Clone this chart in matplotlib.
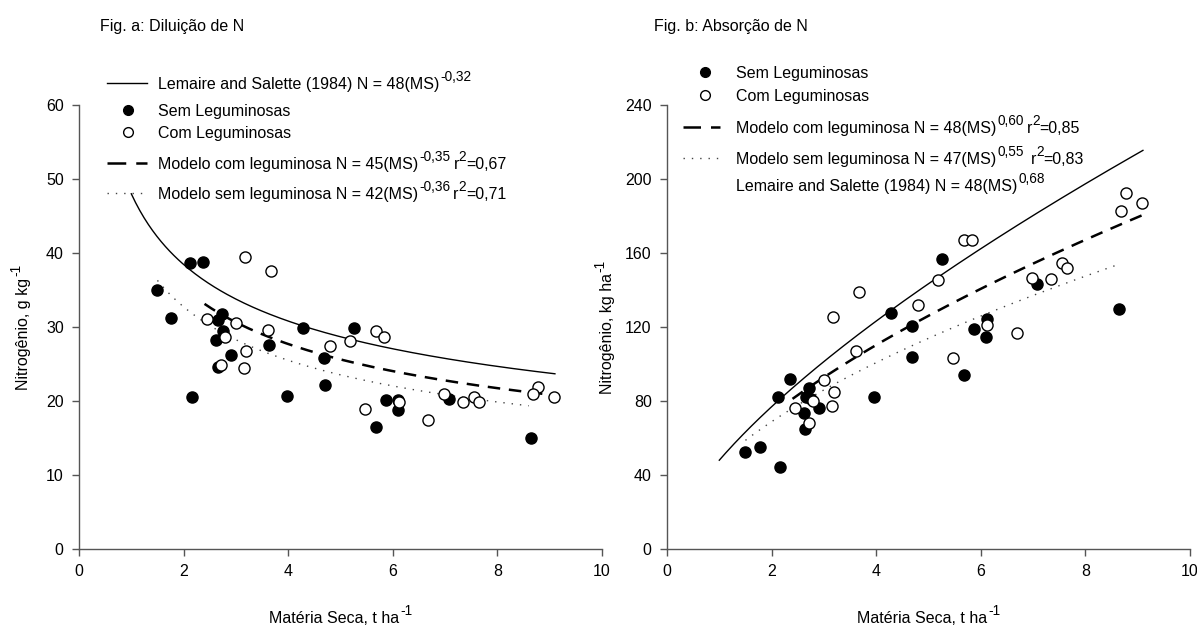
import numpy as np
import matplotlib
matplotlib.use("Agg")
import matplotlib.pyplot as plt
from matplotlib.lines import Line2D
from matplotlib import font_manager

names = {f.name for f in font_manager.fontManager.ttflist}
if 'Liberation Sans Narrow' in names:
    plt.rcParams['font.family'] = ['Liberation Sans Narrow', 'Liberation Sans', 'DejaVu Sans']
    FS = 13.6
else:
    plt.rcParams['font.family'] = ['Liberation Sans', 'DejaVu Sans']
    FS = 11.5
SUP = 0.85
RISE = 8

# ---------------- data: Fig. a (N concentration, g/kg) ----------------
a_sem_x = [1.49, 1.76, 2.12, 2.37, 2.16, 2.73, 2.66, 2.76, 2.62, 2.91, 2.65,
           3.64, 3.97, 4.28, 4.68, 4.70, 5.26, 5.67, 5.87, 6.10, 6.09, 7.08, 8.64]
a_sem_y = [35.0, 31.2, 38.7, 38.8, 20.5, 31.8, 30.9, 29.4, 28.2, 26.2, 24.6,
           27.6, 20.7, 29.9, 25.8, 22.1, 29.9, 16.5, 20.2, 20.2, 18.8, 20.3, 15.0]
a_com_x = [3.17, 3.68, 2.45, 3.00, 2.79, 3.61, 3.19, 3.16, 2.72, 4.79, 5.18,
           5.67, 5.83, 5.47, 6.11, 6.68, 6.97, 7.34, 7.55, 7.65, 8.78, 8.69, 9.09]
a_com_y = [39.4, 37.6, 31.1, 30.5, 28.7, 29.6, 26.7, 24.5, 24.9, 27.5, 28.1,
           29.5, 28.7, 18.9, 19.9, 17.5, 20.9, 19.9, 20.5, 19.8, 21.9, 21.0, 20.5]

# ---------------- data: Fig. b (N uptake, kg/ha) ----------------
b_sem_x = [1.49, 1.77, 2.16, 2.13, 2.36, 2.72, 2.66, 2.76, 2.62, 2.91, 2.64,
           3.96, 4.28, 4.68, 4.69, 5.26, 5.67, 5.87, 6.11, 6.09, 7.08, 8.65]
b_sem_y = [52.3, 55.0, 44.3, 82.2, 91.9, 86.9, 82.3, 81.0, 73.7, 76.0, 64.7,
           82.0, 127.7, 120.7, 103.8, 156.8, 93.8, 118.7, 124.2, 114.6, 143.2, 129.9]
b_com_x = [3.18, 3.67, 4.79, 5.18, 3.61, 3.00, 3.19, 3.16, 2.79, 2.45, 2.72,
           5.47, 5.67, 5.83, 6.97, 7.34, 7.55, 7.65, 6.11, 6.70, 8.78, 8.69, 9.09]
b_com_y = [125.2, 139.0, 131.7, 145.6, 107.0, 91.4, 84.9, 77.3, 80.2, 76.2, 67.9,
           103.2, 167.0, 167.0, 146.3, 145.8, 154.8, 152.0, 121.0, 116.9, 192.6, 182.7, 187.2]

# model curves: N = a * MS^b over [x_start, x_end]
a_models = {"lemaire": (48, -0.32, 1.0, 9.1),
            "com": (45, -0.35, 2.4, 9.1),
            "sem": (42, -0.36, 1.5, 8.6)}
b_models = {"lemaire": (48, 0.68, 1.0, 9.1),
            "com": (48, 0.60, 2.4, 9.1),
            "sem": (47, 0.55, 1.5, 8.6)}

x_ticks = [0, 2, 4, 6, 8, 10]
a_yticks = [0, 10, 20, 30, 40, 50, 60]
b_yticks = [0, 40, 80, 120, 160, 200, 240]

W, H = 1197, 632
fig = plt.figure(figsize=(W / 100, H / 100), dpi=100)
renderer = fig.canvas.get_renderer()

ax1 = fig.add_axes([79 / W, (H - 549) / H, 523 / W, 444 / H])
ax2 = fig.add_axes([667 / W, (H - 549) / H, 523 / W, 444 / H])

DASH = (0, (5, 3.5))
DOT = (0, (1, 5))
SPINE = '#555555'


def rich(x, y, pieces, ha='left', rotation=0):
    """pieces: (text, is_sup) tuples or numeric pixel gaps. x, y in image px (y = baseline)."""
    items = []
    total = 0.0
    for p in pieces:
        if isinstance(p, (int, float)):
            items.append((None, p, False))
            total += p
            continue
        s, sup = p
        t = fig.text(0, 0, s, fontsize=FS * SUP if sup else FS, rotation=rotation,
                     rotation_mode='anchor', ha='left', va='baseline')
        bb = t.get_window_extent(renderer)
        w = bb.height if rotation == 90 else bb.width
        items.append((t, w, sup))
        total += w
    if rotation == 90:
        cur = y + total / 2 if ha == 'center' else y
        for t, w, sup in items:
            if t is not None:
                xx = x - RISE if sup else x
                t.set_position((xx / W, 1 - cur / H))
            cur -= w
    else:
        cur = x - total / 2 if ha == 'center' else x
        for t, w, sup in items:
            if t is not None:
                yy = y - RISE if sup else y
                t.set_position((cur / W, 1 - yy / H))
            cur += w


def draw(ax, models, sx, sy, cx, cy, ylim, yticks):
    for key, style in (("lemaire", dict(color='black', lw=1.0, ls='-')),
                       ("com", dict(color='black', lw=1.8, ls=DASH)),
                       ("sem", dict(color='#444444', lw=1.0, ls=DOT))):
        a, b, x0, x1 = models[key]
        xs = np.linspace(x0, x1, 200)
        ax.plot(xs, a * xs ** b, **style, zorder=2)
    ax.plot(sx, sy, 'o', ms=8, mfc='black', mec='black', mew=1.0, ls='none', zorder=3)
    ax.plot(cx, cy, 'o', ms=8, mfc='white', mec='black', mew=1.0, ls='none', zorder=4)
    ax.set_xlim(0, 10)
    ax.set_ylim(*ylim)
    ax.set_xticks(x_ticks)
    ax.set_yticks(yticks)
    for s in ('top', 'right'):
        ax.spines[s].set_visible(False)
    for s in ('left', 'bottom'):
        ax.spines[s].set_color(SPINE)
        ax.spines[s].set_linewidth(1.0)
    ax.tick_params(direction='out', length=5, width=1, color=SPINE,
                   labelsize=FS, pad=6)


draw(ax1, a_models, a_sem_x, a_sem_y, a_com_x, a_com_y, (0, 60), a_yticks)
draw(ax2, b_models, b_sem_x, b_sem_y, b_com_x, b_com_y, (0, 240), b_yticks)

# axis labels
rich(340.5, 623, [("Matéria Seca, t ha", False), 1, ("-1", True)], ha='center')
rich(928.5, 623, [("Matéria Seca, t ha", False), 1, ("-1", True)], ha='center')
rich(28, 327, [("Nitrogênio, g kg", False), 1, ("-1", True)], ha='center', rotation=90)
rich(612, 327, [("Nitrogênio, kg ha", False), 1, ("-1", True)], ha='center', rotation=90)

# titles
rich(100, 31, [("Fig. a: Diluição de N", False)])
rich(654, 31, [("Fig. b: Absorção de N", False)])


def leg_line(x0, x1, y, **kw):
    fig.add_artist(Line2D([x0 / W, x1 / W], [1 - y / H, 1 - y / H],
                          transform=fig.transFigure, **kw))


def leg_marker(x, y, filled):
    fig.add_artist(Line2D([x / W], [1 - y / H], transform=fig.transFigure,
                          marker='o', ms=7, ls='none',
                          mfc='black' if filled else 'white', mec='black', mew=1.0))


def leg_text(x, y, pieces):
    rich(x, y + 6, pieces)


# legend a
leg_line(107, 147, 83, color='black', lw=1.0)
leg_text(158, 83, [("Lemaire and Salette (1984) N = 48(MS)", False), 1, ("-0,32", True)])
leg_marker(128, 110, True)
leg_text(158, 110, [("Sem Leguminosas", False)])
leg_marker(128, 132, False)
leg_text(158, 132, [("Com Leguminosas", False)])
leg_line(107, 147, 163, color='black', lw=1.8, ls=(0, (7.5, 4)))
leg_text(158, 163, [("Modelo com leguminosa N = 45(MS)", False), 1, ("-0,35", True), 3,
                    ("r", False), ("2", True), ("=0,67", False)])
leg_line(107, 147, 193, color='#444444', lw=1.0, ls=DOT)
leg_text(158, 193, [("Modelo sem leguminosa N = 42(MS)", False), 1, ("-0,36", True), 3,
                    ("r", False), ("2", True), ("=0,71", False)])

# legend b
leg_marker(705, 72, True)
leg_text(736, 72, [("Sem Leguminosas", False)])
leg_marker(705, 95, False)
leg_text(736, 95, [("Com Leguminosas", False)])
leg_line(683, 720, 127, color='black', lw=1.8, ls=(0, (7, 4)))
leg_text(736, 127, [("Modelo com leguminosa N = 48(MS)", False), 1, ("0,60", True), 3,
                    ("r", False), ("2", True), ("=0,85", False)])
leg_line(683, 720, 158, color='#444444', lw=1.0, ls=DOT)
leg_text(736, 158, [("Modelo sem leguminosa N = 47(MS)", False), 1, ("0,55", True), 7,
                    ("r", False), ("2", True), ("=0,83", False)])
leg_text(736, 185, [("Lemaire and Salette (1984) N = 48(MS)", False), 1, ("0,68", True)])

fig.savefig("out.png", dpi=100, facecolor='white')
